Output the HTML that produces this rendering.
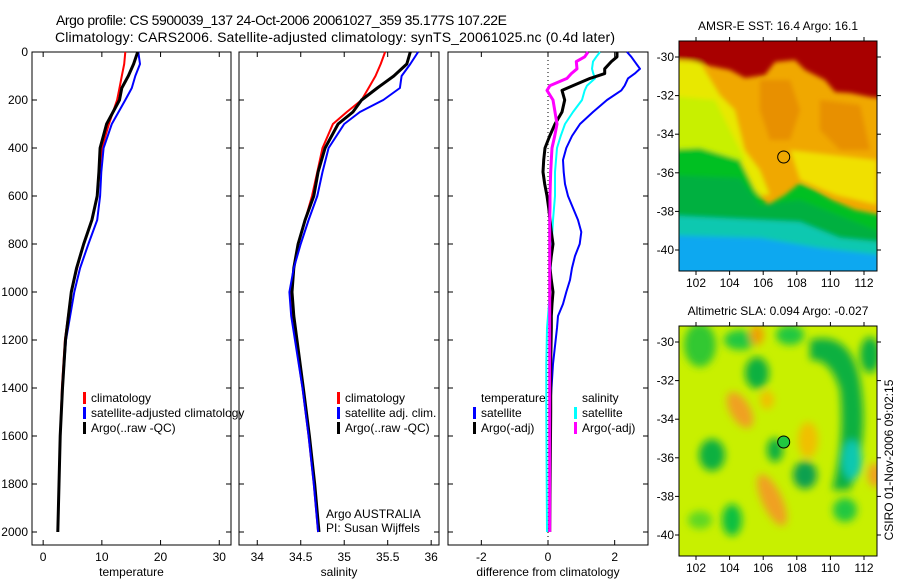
<!DOCTYPE html>
<html><head><meta charset="utf-8"><style>
html,body{margin:0;padding:0;background:#fff;}
svg{display:block;font-family:"Liberation Sans",sans-serif;}
</style></head><body>
<svg id="fig" width="900" height="580" viewBox="0 0 900 580">
<defs>
<filter id="blur" x="-10%" y="-10%" width="120%" height="120%"><feGaussianBlur stdDeviation="4"/></filter>
<filter id="blur2" x="-10%" y="-10%" width="120%" height="120%"><feGaussianBlur stdDeviation="2.5"/></filter>
<clipPath id="c1"><rect x="679" y="41" width="198" height="230"/></clipPath>
<clipPath id="c2"><rect x="679" y="326" width="198" height="230"/></clipPath>
</defs>
<text x="56" y="25" font-size="14" textLength="451">Argo profile: CS 5900039_137 24-Oct-2006 20061027_359 35.177S 107.22E</text>
<text x="55" y="42" font-size="14" textLength="560">Climatology: CARS2006. Satellite-adjusted climatology: synTS_20061025.nc (0.4d later)</text>

<g clip-path="url(#c2)">
<rect x="679" y="326" width="198" height="230" fill="#c8f000"/>
<g filter="url(#blur)">
<ellipse cx="700" cy="345" rx="16" ry="22" fill="#30c830"/>
<ellipse cx="740" cy="340" rx="16" ry="10" fill="#20c840"/>
<ellipse cx="790" cy="335" rx="14" ry="10" fill="#20c840"/>
<ellipse cx="757" cy="335" rx="7" ry="10" fill="#f0a000"/>
<ellipse cx="757" cy="373" rx="12" ry="16" fill="#10b040"/>
<ellipse cx="740" cy="410" rx="10" ry="20" fill="#f0a020" transform="rotate(-30 740 410)"/>
<ellipse cx="767" cy="400" rx="7" ry="9" fill="#f0c000"/>
<ellipse cx="712" cy="455" rx="13" ry="16" fill="#10b040"/>
<ellipse cx="775" cy="450" rx="8" ry="12" fill="#10b040"/>
<ellipse cx="808" cy="440" rx="10" ry="18" fill="#f0c000"/>
<ellipse cx="805" cy="475" rx="12" ry="14" fill="#10a050"/>
<path d="M810 340 Q850 330 860 380 Q870 440 850 490 L832 490 Q845 440 840 390 Q830 358 810 360 Z" fill="#10b040"/>
<ellipse cx="852" cy="460" rx="10" ry="20" fill="#10c8b0"/>
<ellipse cx="870" cy="355" rx="10" ry="18" fill="#10b040"/>
<ellipse cx="772" cy="500" rx="10" ry="28" fill="#f0a020" transform="rotate(-25 772 500)"/>
<ellipse cx="732" cy="520" rx="10" ry="16" fill="#10c040"/>
<ellipse cx="845" cy="510" rx="12" ry="12" fill="#20c840"/>
<ellipse cx="875" cy="475" rx="7" ry="12" fill="#f0a020"/>
<ellipse cx="700" cy="520" rx="12" ry="9" fill="#60d820"/>
</g>
</g>
<g clip-path="url(#c1)">
<rect x="679" y="41" width="198" height="230" fill="#f0a800"/>
<g filter="url(#blur2)">
<path d="M660 60 L700 62 L720 95 L735 110 L745 150 L760 170 L770 195 L660 200 Z" fill="#e8e800"/>
<path d="M660 95 L715 100 L730 130 L745 160 L660 170 Z" fill="#c8f000"/>
<path d="M760 80 L790 80 L800 110 L790 140 L770 140 L760 110 Z" fill="#e07800" opacity="0.5"/>
<path d="M820 100 L860 105 L870 150 L840 150 L820 130 Z" fill="#e07800" opacity="0.5"/>
<path d="M790 150 L877 160 L877 205 L835 195 L800 180 Z" fill="#f0e000"/>
<path d="M660 30 L900 30 L900 100 L870 97 L850 93 L835 92 L825 80 L805 70 L795 60 L775 62 L765 75 L745 78 L730 70 L710 66 L690 60 L660 58 Z" fill="#a80000"/>
<path d="M660 150 L700 148 L740 160 L755 190 L768 205 L785 195 L800 183 L815 190 L832 200 L855 210 L880 215 L880 300 L660 300 Z" fill="#00c020"/>
<path d="M660 175 L740 178 L760 205 L800 200 L880 232 L880 300 L660 300Z" fill="#00b040"/>
<path d="M660 215 L760 220 L800 222 L840 238 L880 242 L880 300 L660 300 Z" fill="#10c8b0"/>
<path d="M660 235 L760 238 L820 248 L880 255 L880 300 L660 300 Z" fill="#10a8f0"/>
</g>
</g>

<g id="plots"></g>
</svg>
<script>
// ---- data ----
const depthsT = [0,50,100,150,200,300,400,500,600,700,800,900,1000,1200,1400,1600,1800,2000];
const tempClim = [14.0,13.8,13.4,13.0,12.6,11.2,10.0,9.6,9.2,8.3,6.9,5.8,4.8,3.7,3.2,2.9,2.7,2.5];
const tempSat  = [16.2,16.5,15.7,15.1,14.0,11.7,10.3,9.9,9.7,9.2,7.7,6.3,5.3,3.9,3.3,2.9,2.7,2.5];
const tempArgo = [16.1,15.4,14.5,13.4,13.0,10.8,9.7,9.5,9.2,8.3,6.9,5.7,4.8,3.8,3.3,2.9,2.7,2.5];
const depthsS = [0,50,100,150,200,250,300,400,500,600,700,800,900,1000,1100,1400,1600,1800,2000];
const salClim = [35.47,35.42,35.36,35.28,35.2,35.03,34.87,34.75,34.69,34.63,34.55,34.47,34.42,34.39,34.4,34.52,34.59,34.65,34.7];
const salSat  = [35.85,35.76,35.66,35.64,35.45,35.18,35.0,34.82,34.75,34.69,34.59,34.5,34.42,34.37,34.39,34.52,34.59,34.65,34.7];
const salArgo = [35.76,35.72,35.57,35.38,35.2,35.1,34.93,34.78,34.7,34.65,34.55,34.47,34.42,34.4,34.42,34.53,34.6,34.66,34.71];
const depthsD = [0,20,40,70,90,110,140,160,200,250,300,350,400,450,500,550,600,650,700,750,800,850,900,950,1000,1050,1100,1150,1300,1500,2000];
const dTempSat  = [2.37,2.5,2.6,2.76,2.6,2.4,2.3,2.2,1.77,1.35,0.96,0.72,0.55,0.45,0.47,0.51,0.6,0.75,0.9,1.0,0.95,0.81,0.72,0.66,0.55,0.45,0.3,0.27,0.15,0.06,0.05];
const dTempArgo = [2.07,2.07,1.9,1.7,1.7,1.26,0.75,0.42,0.5,0.42,0.21,0.05,-0.09,-0.13,-0.15,-0.1,-0.03,0.02,0.06,0.1,0.15,0.1,0.06,0.1,0.15,0.12,0.1,0.1,0.08,0.08,0.05];
const dSalSat   = [1.56,1.45,1.35,1.32,1.36,1.41,1.17,1.1,1.02,0.75,0.51,0.38,0.27,0.24,0.21,0.21,0.21,0.18,0.15,0.13,0.12,0.1,0.08,0.07,0.06,0.03,0.0,-0.03,-0.05,-0.05,-0.03];
const dSalArgo  = [1.2,1.1,0.85,0.87,0.7,0.57,0.06,-0.03,0.15,0.21,0.27,0.2,0.12,0.1,0.08,0.07,0.06,0.06,0.05,0.05,0.05,0.05,0.05,0.05,0.05,0.05,0.05,0.05,0.05,0.05,0.05];
const depthTicks = [0,200,400,600,800,1000,1200,1400,1600,1800,2000];
const tempTicks = [0,10,20,30];
const salTicks = [34,34.5,35,35.5,36];
const diffTicks = [-2,0,2];
const latTicks = [-30,-32,-34,-36,-38,-40];
const lonTicks = [102,104,106,108,110,112];

const NS='http://www.w3.org/2000/svg';
const root=document.getElementById('plots');
function mk(tag,attrs,parent){const e=document.createElementNS(NS,tag);for(const k in attrs)e.setAttribute(k,attrs[k]);(parent||root).appendChild(e);return e;}
const yD = d => 52 + d*0.24;

function panel(name,x0,x1,xmin,xmax,ticks,xlabel,showY){
  const g=mk('g',{});
  
  
  const sx=v=>x0+(v-xmin)/(xmax-xmin)*(x1-x0);
  const r=mk('rect',{x:x0,y:52,width:x1-x0,height:493,fill:'none',stroke:'#000','stroke-width':1},g);
  
  
  ticks.forEach(t=>{
    const x=sx(t);
    mk('line',{x1:x,x2:x,y1:545,y2:540,stroke:'#000'},g);
    mk('line',{x1:x,x2:x,y1:52,y2:57,stroke:'#000'},g);
    const tx=mk('text',{x:x,y:561,'font-size':12,'text-anchor':'middle'},g);
    tx.textContent=String(t);
    
    
  });
  depthTicks.forEach(d=>{
    const y=yD(d);
    mk('line',{x1:x0,x2:x0+5,y1:y,y2:y,stroke:'#000'},g);
    mk('line',{x1:x1,x2:x1-5,y1:y,y2:y,stroke:'#000'},g);
    if(showY){const t=mk('text',{x:x0-4,y:y+4,'font-size':12,'text-anchor':'end'},g);t.textContent=String(d);
      
      }
  });
  const xl=mk('text',{x:(x0+x1)/2,y:576,'font-size':12,'text-anchor':'middle'},g);
  xl.textContent=xlabel;
  
  
  return {g,sx};
}
function line(p,depths,vals,color,w,name){
  const pts=vals.map((v,i)=>p.sx(v).toFixed(1)+','+yD(depths[i]).toFixed(1)).join(' ');
  const pl=mk('polyline',{points:pts,fill:'none',stroke:color,'stroke-width':w,'stroke-linejoin':'round'},p.g);
  
  
}
function legend(g,x,y,items){
  items.forEach((it,i)=>{
    const yy=y+i*15;
    if(it[1]) mk('rect',{x:x,y:yy-10,width:3,height:12,fill:it[1]},g);
    const t=mk('text',{x:x+8,y:yy,'font-size':12},g);
    t.textContent=it[0];
    
    
  });
}

const p1=panel('temperature-panel',32,231,-1.9,32,tempTicks,'temperature',true);
line(p1,depthsT,tempClim,'#f00',2,'temp-climatology-line');
line(p1,depthsT,tempSat,'#00f',2,'temp-satellite-line');
line(p1,depthsT,tempArgo,'#000',3,'temp-argo-line');
legend(p1.g,83,402,[['climatology','#f00'],['satellite-adjusted climatology','#00f'],['Argo(..raw -QC)','#000']]);

const p2=panel('salinity-panel',239,439,33.79,36.09,salTicks,'salinity',false);
line(p2,depthsS,salClim,'#f00',2,'sal-climatology-line');
line(p2,depthsS,salArgo,'#000',3,'sal-argo-line');
line(p2,depthsS,salSat,'#00f',2,'sal-satellite-line');
legend(p2.g,337,402,[['climatology','#f00'],['satellite adj. clim.','#00f'],['Argo(..raw -QC)','#000']]);
const a1=mk('text',{x:326,y:518,'font-size':12},p2.g);a1.textContent='Argo AUSTRALIA';


const a2=mk('text',{x:326,y:532,'font-size':12},p2.g);a2.textContent='PI: Susan Wijffels';



const p3=panel('difference-panel',448,648,-3.0,3.0,diffTicks,'difference from climatology',false);
const z=mk('line',{x1:p3.sx(0),x2:p3.sx(0),y1:52,y2:545,stroke:'#000','stroke-dasharray':'1,3'},p3.g);


line(p3,depthsD,dTempSat,'#00f',2,'diff-temp-satellite-line');
line(p3,depthsD,dSalSat,'#0ff',2,'diff-sal-satellite-line');
line(p3,depthsD,dTempArgo,'#000',3,'diff-temp-argo-line');
line(p3,depthsD,dSalArgo,'#f0f',3,'diff-sal-argo-line');
legend(p3.g,473,402,[['temperature',null],['satellite','#00f'],['Argo(-adj)','#000']]);
legend(p3.g,574,402,[['salinity',null],['satellite','#0ff'],['Argo(-adj)','#f0f']]);

function mapAxes(name,top,title){
  const g=mk('g',{});
  
  
  const x0=679,x1=877,y1=top+230;
  const sx=lon=>696+(lon-102)*16.8, sy=lat=>top+16+(-30-lat)*19.3;
  mk('rect',{x:x0,y:top,width:198,height:230,fill:'none',stroke:'#000'},g);
  latTicks.forEach(l=>{const y=sy(l);
    mk('line',{x1:x0,x2:x0-4,y1:y,y2:y,stroke:'#000'},g);
    mk('line',{x1:x1,x2:x1+4,y1:y,y2:y,stroke:'#000'},g);
    const t=mk('text',{x:x0-5,y:y+4,'font-size':12,'text-anchor':'end'},g);t.textContent=String(l);
    
    });
  lonTicks.forEach(l=>{const x=sx(l);
    mk('line',{x1:x,x2:x,y1:y1,y2:y1+4,stroke:'#000'},g);
    mk('line',{x1:x,x2:x,y1:top,y2:top-4,stroke:'#000'},g);
    const t=mk('text',{x:x,y:y1+16,'font-size':12,'text-anchor':'middle'},g);t.textContent=String(l);
    
    });
  const tt=mk('text',{x:778,y:top-11,'font-size':12,'text-anchor':'middle'},g);tt.textContent=title;
  
  
  return {sx,sy,g};
}
const floatLon=107.22, floatLat=-35.18;
const m1=mapAxes('sst-map',41,'AMSR-E SST: 16.4  Argo: 16.1');
const c1=mk('circle',{cx:m1.sx(floatLon),cy:m1.sy(floatLat),r:6,fill:'none',stroke:'#000'},m1.g);


const m2=mapAxes('sla-map',326,'Altimetric SLA: 0.094  Argo: -0.027');
const c2=mk('circle',{cx:m2.sx(floatLon),cy:m2.sy(floatLat),r:6,fill:'#20c840',stroke:'#000'},m2.g);


const cs=mk('text',{x:893,y:460,'font-size':12,'text-anchor':'middle',transform:'rotate(-90 893 460)'},m2.g);
cs.textContent='CSIRO 01-Nov-2006 09:02:15';


</script>
</body></html>
